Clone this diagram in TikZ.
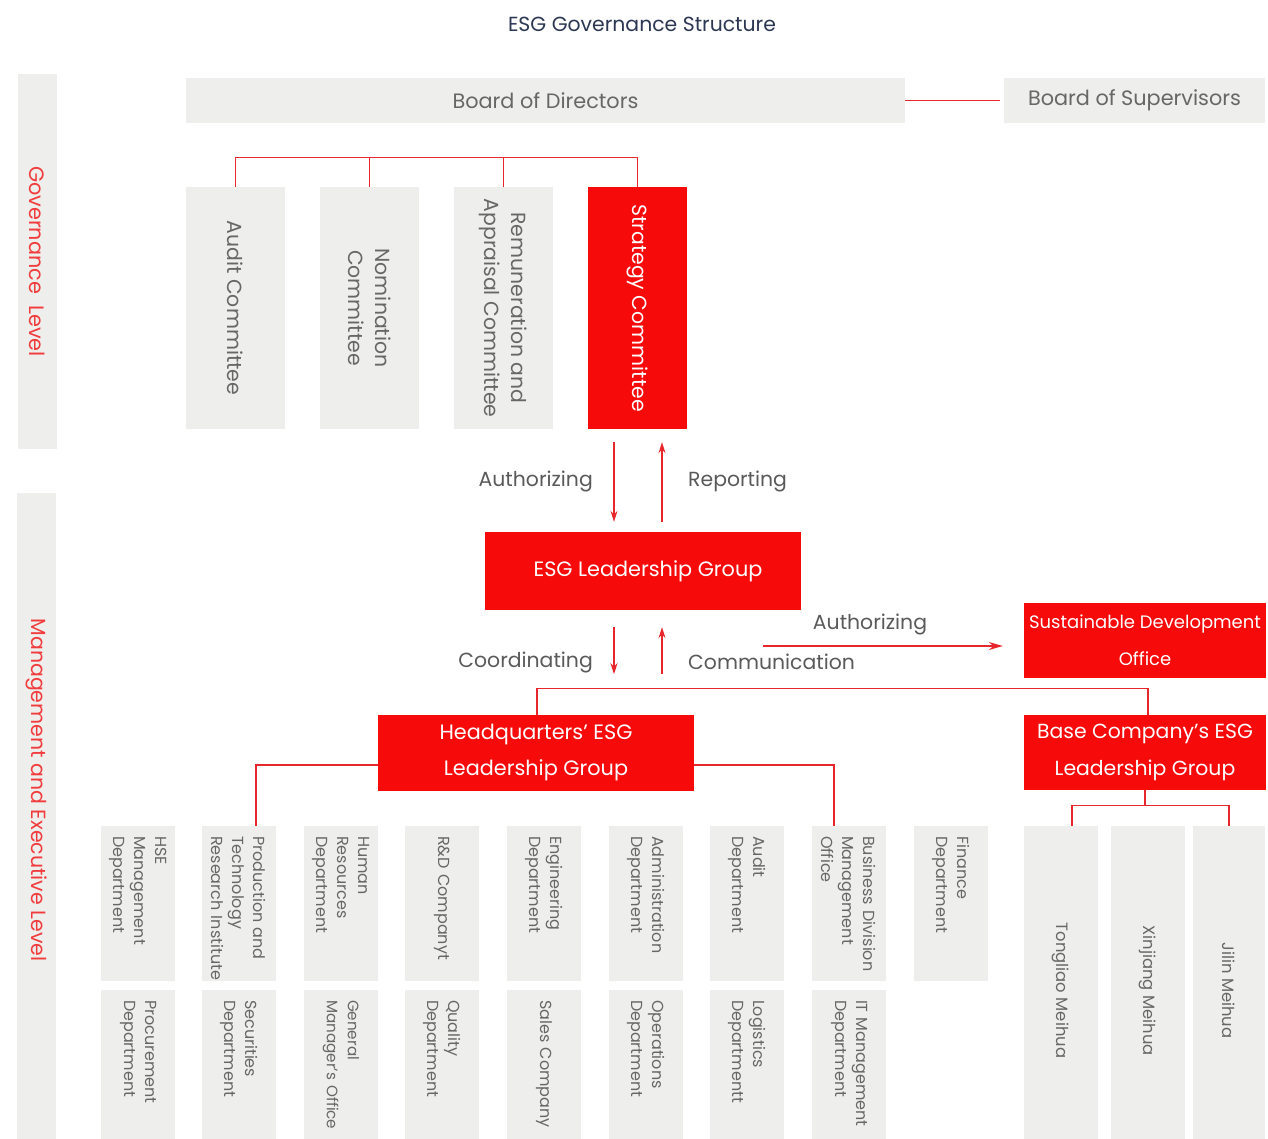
\documentclass[tikz,border=0pt]{standalone}
\usepackage{fontspec}
\setmainfont{Poppins}
\usetikzlibrary{arrows.meta,calc}
\definecolor{esgred}{HTML}{F70A0A}
\definecolor{boxgray}{HTML}{EEEEEC}
\definecolor{txtgray}{HTML}{676767}
\definecolor{labgray}{HTML}{5A5A5A}
\definecolor{linered}{HTML}{E8272C}
\definecolor{levelred}{HTML}{F03C3C}
\definecolor{titleblue}{HTML}{2C3753}
\newcommand\fsz[2]{\fontsize{#1}{#2}\selectfont}
\hyphenpenalty=10000
\exhyphenpenalty=10000
\begin{document}
\begin{tikzpicture}[x=1pt,y=-1pt,
  conn/.style={draw=linered, line width=1.3pt},
  arr/.style={conn, -{Stealth[length=11pt,width=7pt]}},
  graybox/.style={fill=boxgray, text=txtgray, inner sep=0pt, align=center},
  redbox/.style={fill=esgred, text=white, inner sep=0pt, align=center},
  vbox/.style={rotate=-90, inner sep=0pt, align=center},
  comm/.style={vbox, minimum width=242pt, minimum height=99pt, font=\fsz{20.4}{27}},
  dept/.style={fill=boxgray, text=txtgray, rotate=-90, inner xsep=10pt, inner ysep=0pt,
     minimum height=74pt, align=left, font=\fsz{16}{21}},
  toprow/.style={dept, text width=135pt},
  botrow/.style={dept, text width=129pt},
  basebox/.style={fill=boxgray, text=txtgray, vbox, minimum width=313pt, font=\fsz{16.4}{21}},
  lab/.style={text=labgray, font=\fsz{20.4}{24}, inner sep=0pt}
]
\useasboundingbox (0,0) rectangle (1268,1139);
\fill[white] (0,0) rectangle (1268,1139);

% title
\node[text=titleblue, font=\fsz{20.4}{24}] (title) at (642,24) {ESG Governance Structure};

% level bars
\node[graybox, vbox, minimum width=375pt, minimum height=39pt, text=levelred, font=\fsz{20.8}{24}]
  (govbar) at (37.5,261.5) {Governance\ \ Level};
\node[graybox, minimum width=39pt, minimum height=646pt, anchor=north west] (mgmtbar) at (17,493) {};
\node[vbox, text=levelred, font=\fsz{20.5}{24}] (mgmttext) at (36.5,790) {Management and Executive Level};

% boards
\node[graybox, minimum width=719pt, minimum height=45pt, font=\fsz{20.8}{24}] (bod) at (545.5,100.5) {Board of Directors};
\node[graybox, minimum width=261pt, minimum height=45pt, font=\fsz{20.8}{24}] (bos) at (1134.5,100.5) {Board of Supervisors};
\draw[conn] (bod.east) -- ([xshift=-4pt]bos.west);

% committees
\node[comm, fill=boxgray, text=txtgray] (audit) at (235.5,308) {Audit Committee};
\node[comm, fill=boxgray, text=txtgray] (nomin) at (369.5,308) {Nomination\\Committee};
\node[comm, fill=boxgray, text=txtgray] (remun) at (503.5,308) {Remuneration and\\Appraisal Committee};
\node[comm, fill=esgred, text=white] (strat) at (637.5,308) {Strategy Committee};
\draw[conn] (audit.west) -- ++(0,-29) -| (strat.west);
\draw[conn] (nomin.west) -- ++(0,-29);
\draw[conn] (remun.west) -- ++(0,-29);

% ESG leadership group
\node[redbox, minimum width=316pt, minimum height=78pt, font=\fsz{20.8}{24}] (esg) at (643,571) {\hspace*{10pt}ESG Leadership Group};
\draw[arr] ($(strat.east)+(-23.5,13)$) -- ($(esg.north)+(-29,-10)$);
\draw[arr] ($(esg.north)+(19,-10)$) -- ($(strat.east)+(24.5,13)$);
\node[lab, anchor=east] (lauth) at (593,481) {Authorizing};
\node[lab, anchor=west] (lrep) at (688,481) {Reporting};

\draw[arr] ($(esg.south)+(-29,17)$) -- ($(esg.south)+(-29,64)$);
\draw[arr] ($(esg.south)+(19,64)$) -- ($(esg.south)+(19,17)$);
\node[lab, anchor=east] (lcoord) at (593,662) {Coordinating};
\node[lab, anchor=west] (lcomm) at (688,662) {Communication};

% sustainable development office
\node[redbox, minimum width=242pt, minimum height=75pt, font=\fsz{18}{37}] (sdo) at (1145,640.5) {Sustainable Development\\Office};
\draw[arr, -{Stealth[length=14pt,width=8pt]}] ($(esg.east)+(-38,75)$) -- ($(sdo.west)+(-21,5.5)$);
\node[lab] (lauth2) at (870,624) {Authorizing};

% HQ and base groups
\node[redbox, minimum width=316pt, minimum height=76pt, font=\fsz{20.8}{36}] (hq) at (536,753) {Headquarters' ESG\\Leadership Group};
\node[redbox, minimum width=242pt, minimum height=75pt, font=\fsz{20.4}{37}] (base) at (1145,752.5) {Base Company's ESG\\Leadership Group};
\draw[conn] ($(hq.north)+(1,0)$) -- ++(0,-26) -| ($(base.north)+(3,0)$);

% departments top row
\node[toprow] (hse)  at (138,903.5) {HSE\\Management\\Department};
\node[toprow] (prod) at (239,903.5) {\mbox{Production and}\\Technology\\\mbox{Research Institute}};
\node[toprow] (hr)   at (341,903.5) {Human\\Resources\\Department};
\node[toprow] (rd)   at (442,903.5) {\mbox{R\&D Companyt}};
\node[toprow] (eng)  at (544,903.5) {Engineering\\Department};
\node[toprow] (adm)  at (646,903.5) {Administration\\Department};
\node[toprow] (aud)  at (747,903.5) {Audit\\Department};
\node[toprow] (bdm)  at (849,903.5) {\mbox{Business Division}\\Management\\Office};
\node[toprow] (fin)  at (951,903.5) {Finance\\Department};
% departments bottom row
\node[botrow] (proc) at (138,1064.5) {Procurement\\Department};
\node[botrow] (sec)  at (239,1064.5) {Securities\\Department};
\node[botrow, font=\fsz{15.2}{21}] (gmo)  at (341,1064.5) {General\\\mbox{Manager's Office}};
\node[botrow] (qual) at (442,1064.5) {Quality\\Department};
\node[botrow] (sales) at (544,1064.5) {\mbox{Sales Company}};
\node[botrow] (ops)  at (646,1064.5) {Operations\\Department};
\node[botrow] (log)  at (747,1064.5) {Logistics\\Departmentt};
\node[botrow] (itm)  at (849,1064.5) {\mbox{IT Management}\\Department};

\draw[conn] ($(hq.west)+(0,12)$) -| ($(prod.west)+(17,0)$);
\draw[conn] ($(hq.east)+(0,12)$) -| ($(bdm.west)+(-15,0)$);

% base companies
\node[basebox, minimum height=74pt] (tong) at (1061,982.5) {\hspace*{16pt}Tongliao Meihua};
\node[basebox, minimum height=74pt] (xinj) at (1148,982.5) {\hspace*{16pt}Xinjiang Meihua};
\node[basebox, minimum height=72pt] (jil)  at (1229,982.5) {\hspace*{16pt}Jilin Meihua};
\draw[conn] (base.south) -- ++(0,16);
\draw[conn] ($(tong.west)+(11,0)$) -- ++(0,-20) -| (jil.west);
\end{tikzpicture}
\end{document}
